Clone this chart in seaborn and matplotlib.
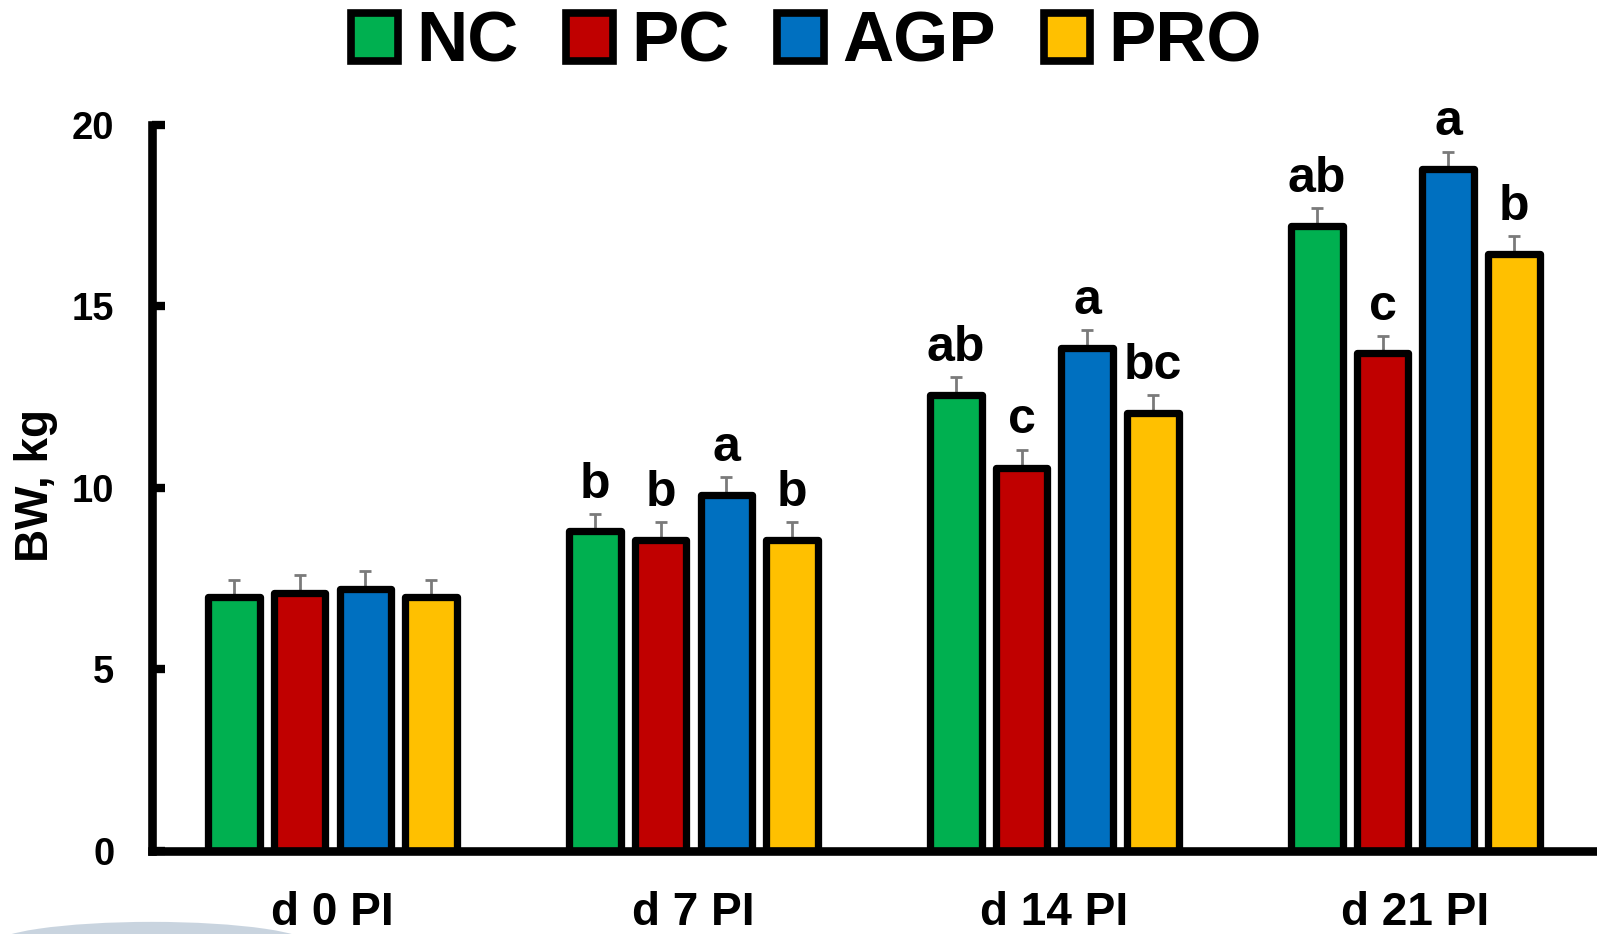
import matplotlib
matplotlib.use("Agg")
import matplotlib.pyplot as plt
from matplotlib.patches import Patch, Ellipse
import seaborn as sns
import pandas as pd
import numpy as np

# data
days = ['d 0 PI', 'd 7 PI', 'd 14 PI', 'd 21 PI']
groups = ['NC', 'PC', 'AGP', 'PRO']
nc = [6.99, 8.8, 12.55, 17.21]
pc = [7.10, 8.55, 10.55, 13.7]
agp = [7.22, 9.8, 13.85, 18.77]
pro = [6.98, 8.55, 12.05, 16.43]
nc_se = [0.47, 0.48, 0.50, 0.49]
pc_se = [0.50, 0.50, 0.50, 0.48]
agp_se = [0.49, 0.50, 0.50, 0.49]
pro_se = [0.49, 0.50, 0.50, 0.50]
nc_let = ['', 'b', 'ab', 'ab']
pc_let = ['', 'b', 'c', 'c']
agp_let = ['', 'a', 'a', 'a']
pro_let = ['', 'b', 'bc', 'b']

colors = ['#00B050', '#C00000', '#0070C0', '#FFC000']

vals = {'NC': nc, 'PC': pc, 'AGP': agp, 'PRO': pro}
ses = {'NC': nc_se, 'PC': pc_se, 'AGP': agp_se, 'PRO': pro_se}
lets = {'NC': nc_let, 'PC': pc_let, 'AGP': agp_let, 'PRO': pro_let}

rows = []
for g in groups:
    for i, d in enumerate(days):
        rows.append({'day': d, 'trt': g, 'bw': vals[g][i], 'se': ses[g][i], 'let': lets[g][i]})
df = pd.DataFrame(rows)

sns.set_style("white")
plt.rcParams['font.family'] = ['Liberation Sans', 'DejaVu Sans']
plt.rcParams['font.weight'] = 'bold'
plt.rcParams['text.color'] = 'black'
plt.rcParams['xtick.color'] = 'black'
plt.rcParams['ytick.color'] = 'black'

fig = plt.figure(figsize=(15.97, 9.34), dpi=100)
ax = fig.add_axes([0.0952, 0.0889, 0.9048, 0.7776])

sns.barplot(data=df, x='day', y='bw', hue='trt', order=days, hue_order=groups,
            palette=colors, saturation=1, width=0.728, gap=0.214, edgecolor='black',
            linewidth=5.25, errorbar=None, legend=False, ax=ax, zorder=3)

bar_conts = list(ax.containers)
for gi, cont in enumerate(bar_conts):
    g = groups[gi]
    sub = df[df['trt'] == g].set_index('day').loc[days]
    xs = [b.get_x() + b.get_width() / 2 for b in cont]
    for b in cont:
        b.set_joinstyle('round')
    ax.errorbar(xs, sub['bw'].values, yerr=[np.zeros(len(xs)), sub['se'].values],
                fmt='none', ecolor='#7a7a7a', elinewidth=2, capsize=4.3, capthick=2, zorder=2)
    for x, y, e, t in zip(xs, sub['bw'].values, sub['se'].values, sub['let'].values):
        if t:
            ax.text(x, y + e + 0.45, t, ha='center', va='baseline', fontsize=36,
                    fontweight='bold', color='black')

ax.set_xlim(-0.5, 3.503)
ax.set_ylim(0, 20)
ax.set_yticks([0, 5, 10, 15, 20])
ax.set_xlabel('')
ax.set_ylabel('')
for s in ['top', 'right']:
    ax.spines[s].set_visible(False)
for s in ['left', 'bottom']:
    ax.spines[s].set_linewidth(6.2)
    ax.spines[s].set_color('black')
    ax.spines[s].set_zorder(4)
ax.tick_params(axis='y', direction='in', length=9.4, width=6, labelsize=27.5, pad=27,
               left=True, labelcolor='black')
ax.tick_params(axis='x', length=0, labelsize=33, pad=29, labelcolor='black')
for lab in ax.get_xticklabels() + ax.get_yticklabels():
    lab.set_fontweight('bold')

fig.text(36 / 1597, 1 - 486 / 934, 'BW, kg', rotation=90, fontsize=33,
         fontweight='bold', ha='center', va='center', color='black')

handles = [Patch(facecolor=c, edgecolor='black', linewidth=5.5, joinstyle='round') for c in colors]
leg = fig.legend(handles, groups, loc='center', bbox_to_anchor=(0.505, 1 - 44 / 934), ncol=4,
                 frameon=False, prop={'size': 51, 'weight': 'bold'}, handlelength=0.66,
                 handleheight=0.66, handletextpad=0.25, columnspacing=0.68)
for t in leg.get_texts():
    t.set_color('black')

# faint swoosh in bottom-left corner of the slide
fig.patches.append(Ellipse((0.095, -0.012), 0.2, 0.05, transform=fig.transFigure,
                           facecolor='#bccad8', edgecolor='none', alpha=0.8))

fig.savefig('out.png', dpi=100)
